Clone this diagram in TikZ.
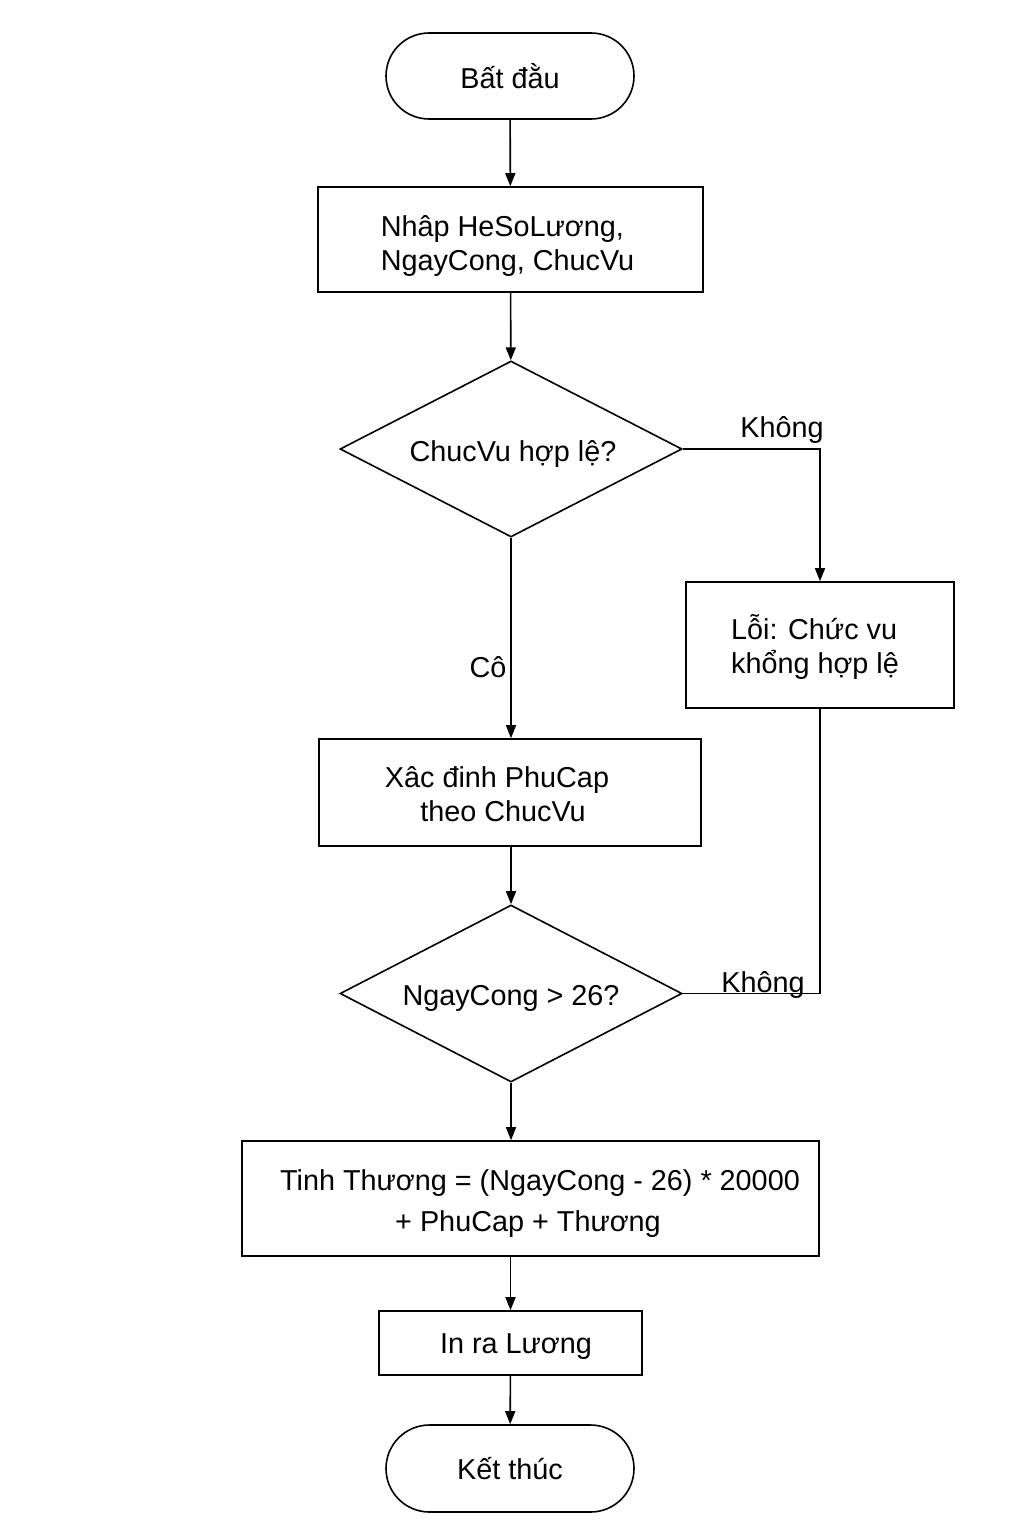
\documentclass[tikz,border=0pt]{standalone}
\usepackage{fontspec}
\setmainfont{Liberation Sans}
\usetikzlibrary{shapes.geometric,shapes.misc,arrows.meta}
\begin{document}
\begin{tikzpicture}[x=0.5pt,y=-0.5pt,
  every node/.style={font=\fontsize{14.4}{17}\selectfont, inner sep=0pt},
  line width=0.8pt,
  term/.style={draw, rounded rectangle, minimum width=124pt, minimum height=43pt},
  proc/.style={draw, rectangle},
  dec/.style={draw, diamond, minimum width=171pt, minimum height=88pt},
  arr/.style={-{Triangle[length=6.5pt,width=5pt]}},
  lbl/.style={anchor=base}]
\fill[white] (0,0) rectangle (1024,1536);
\useasboundingbox (0,0) rectangle (1024,1536);

% shapes
\node[term] (start) at (510,76) {Bất đằu};
\node[proc, minimum width=192.5pt, minimum height=52.5pt] (inp) at (510.5,239.5) {};
\node[dec] (d1) at (511,449) {};
\node[proc, minimum width=134pt, minimum height=63pt] (err) at (820,645) {};
\node[proc, minimum width=191pt, minimum height=53.5pt] (xac) at (510,792.5) {};
\node[dec, minimum height=88.5pt] (d2) at (511,993.5) {};
\node[proc, minimum width=288.5pt, minimum height=57.5pt] (tinh) at (530.5,1198.5) {};
\node[proc, minimum width=131.5pt, minimum height=32pt] (inra) at (510.5,1343) {};
\node[term, minimum height=43.5pt] (end) at (510,1468.5) {Kết thúc};

% texts
\node[align=left] (tinp) at (507.5,246.5) {Nhâp HeSoLương,\\NgayCong, ChucVu};
\node (td1) at (513,454) {ChucVu hợp lệ?};
\node[align=left] (terr) at (815,647) {Lỗi: Chức vu\\khổng hợp lệ};
\node[align=center] (txac) at (503,794.5) {\hspace*{-6pt}Xâc đinh PhuCap\\theo ChucVu};
\node (td2) at (511,998.5) {NgayCong > 26?};
\node[align=center, font=\fontsize{14.4}{20.5}\selectfont] (ttinh) at (528,1203.5) {\hspace*{12pt}Tinh Thương = (NgayCong - 26) * 20000\\+ PhuCap + Thương};
\node (tinra) at (516,1347) {In ra Lương};

% connectors
\draw[arr] (start) -- (inp);
\draw[arr] (inp) -- (d1);
\draw[arr] (d1.east) -| (err.north);
\draw[arr] (d1.south) -- (d1.south |- xac.north);
\draw (err.south) |- (d2.east);
\draw[arr] (xac.south -| d2.north) -- (d2.north);
\draw[arr] (d2.south) -- (d2.south |- tinh.north);
\draw[arr] (tinh.south -| inra.north) -- (inra.north);
\draw[arr] (inra) -- (end);

% branch labels
\node[lbl] (k1) at (782,437) {Không};
\node[lbl] (k2) at (763,992) {Không};
\node[lbl] (co) at (488,677) {Cô};
\end{tikzpicture}
\end{document}
